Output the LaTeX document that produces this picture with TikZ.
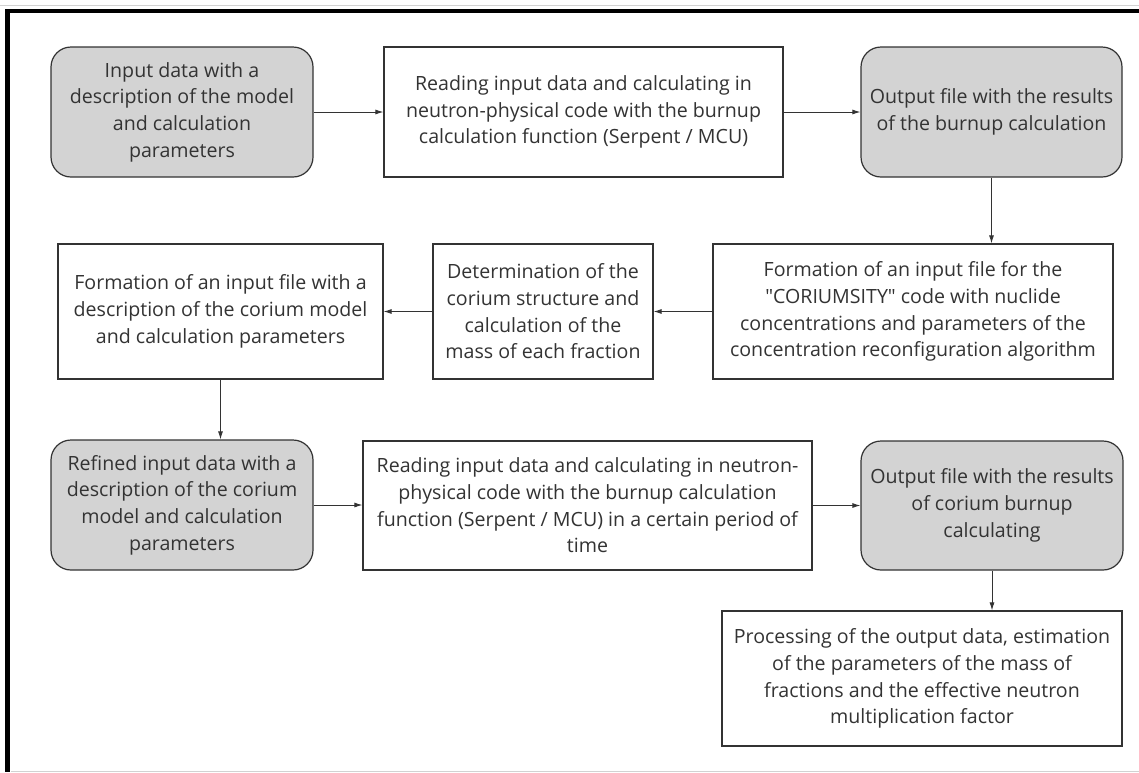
\documentclass[tikz,border=0pt]{standalone}
\usepackage{fontspec}
\setmainfont{Open Sans}[Ligatures=TeXOff]
\usetikzlibrary{arrows.meta}
\definecolor{ink}{HTML}{333333}
\definecolor{shade}{HTML}{D3D3D3}
\tikzset{
  box/.style={draw=ink, line width=1.2pt, fill=white, text=ink, align=center,
    inner sep=0pt, font=\fontsize{19.6pt}{26.7pt}\selectfont},
  term/.style={box, fill=shade, rounded corners=20pt},
  flow/.style={draw=ink, line width=0.9pt, -{Latex[length=8pt,width=5pt]}},
}
\begin{document}
\begin{tikzpicture}[x=1pt,y=-1pt]
\useasboundingbox (0,0) rectangle (1139,772);
% frame
\draw[gray!35, line width=1pt] (0,5.5) -- (1139,5.5);
\draw[gray!35, line width=1pt] (11,771) -- (1139,771);
\fill[black] (5,9) rectangle (1139,12.5);
\fill[black] (5,9) rectangle (10,772);

% row 1
\node[term, minimum width=262pt, minimum height=130pt] (inp) at (182,112)
  {Input data with a\\description of the model\\and calculation\\parameters};
\node[box, minimum width=399pt, minimum height=130pt] (read) at (583.5,112)
  {Reading input data and calculating in\\neutron-physical code with the burnup\\calculation function (Serpent / MCU)};
\node[term, minimum width=261pt, minimum height=130pt] (out) at (991.5,112)
  {Output file with the results\\of the burnup calculation};

% row 2
\node[box, minimum width=400pt, minimum height=135pt] (form) at (913,311.5)
  {Formation of an input file for the\\"CORIUMSITY" code with nuclide\\concentrations and parameters of the\\concentration reconfiguration algorithm};
\node[box, minimum width=220pt, minimum height=135pt] (det) at (543,311.5)
  {Determination of the\\corium structure and\\calculation of the\\mass of each fraction};
\node[box, minimum width=325pt, minimum height=135pt] (fin) at (220.5,311.5)
  {Formation of an input file with a\\description of the corium model\\and calculation parameters};

% row 3
\node[term, minimum width=262pt, minimum height=130pt] (ref) at (182,505)
  {Refined input data with a\\description of the corium\\model and calculation\\parameters};
\node[box, minimum width=449pt, minimum height=129pt] (read2) at (587.5,505.5)
  {Reading input data and calculating in neutron-\\physical code with the burnup calculation\\function (Serpent / MCU) in a certain period of\\time};
\node[term, minimum width=262pt, minimum height=129pt] (out2) at (992,505.5)
  {Output file with the results\\of corium burnup\\calculating};

% row 4
\node[box, minimum width=400pt, minimum height=135pt] (proc) at (922,678.5)
  {Processing of the output data, estimation\\of the parameters of the mass of\\fractions and the effective neutron\\multiplication factor};

% connectors
\draw[flow] (inp) -- (read);
\draw[flow] (read) -- (out);
\draw[flow] (out.south) -- (out.south |- form.north);
\draw[flow] (form) -- (det);
\draw[flow] (det) -- (fin);
\draw[flow] (fin.south) -- (fin.south |- ref.north);
\draw[flow] (ref.east) -- (ref.east -| read2.west);
\draw[flow] (read2.east) -- (read2.east -| out2.west);
\draw[flow] (out2.south) -- (out2.south |- proc.north);
\end{tikzpicture}
\end{document}
